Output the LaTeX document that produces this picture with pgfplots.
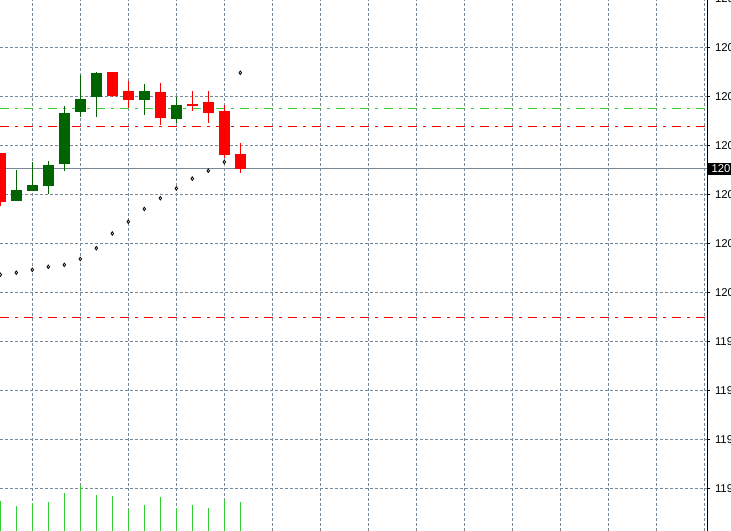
\documentclass[border=0pt]{standalone}
\usepackage{fontspec}
\setmainfont{Liberation Sans}
\usepackage{pgfplots}
\usepackage{pgfplotstable}
\pgfplotsset{compat=1.18}

\definecolor{bull}{RGB}{0,100,0}
\definecolor{bear}{RGB}{255,0,0}
\definecolor{vol}{RGB}{50,205,50}
\definecolor{gridc}{RGB}{119,136,153}

% candles: index, open, high, low, close
\pgfplotstableread{
x o h l c
1 120.093 120.125 120.093 120.104
2 120.103 120.133 120.103 120.109
3 120.108 120.134 120.100 120.130
4 120.131 120.190 120.124 120.183
5 120.184 120.222 120.179 120.197
6 120.199 120.225 120.179 120.224
9 120.196 120.213 120.181 120.205
11 120.177 120.199 120.173 120.191
}\bulltab
\pgfplotstableread{
x o h l c
0 120.142 120.142 120.088 120.092
7 120.225 120.225 120.199 120.200
8 120.205 120.216 120.188 120.196
10 120.204 120.214 120.171 120.178
12 120.192 120.205 120.185 120.190
13 120.194 120.205 120.173 120.183
14 120.185 120.191 120.137 120.140
15 120.141 120.152 120.122 120.126
}\beartab
% parabolic sar
\pgfplotstableread{
x y
0 120.018
1 120.020
2 120.023
3 120.026
4 120.028
5 120.034
6 120.045
7 120.060
8 120.072
9 120.085
10 120.096
11 120.106
12 120.116
13 120.124
14 120.133
15 120.224
}\sartab
% tick volumes
\pgfplotstableread{
x v
0 300
1 250
2 280
3 290
4 380
5 460
6 360
7 350
8 220
9 260
10 340
11 230
12 260
13 230
14 310
15 290
}\voltab

\begin{document}
\begin{tikzpicture}
\useasboundingbox (0,0) rectangle (548.25pt,398.25pt);
\clip (0,0) rectangle (548.25pt,398.25pt);
\begin{axis}[
    at={(0,-7.5pt)}, anchor=south west,
    scale only axis,
    width=530.475pt, height=413.25pt,
    xmin=-0.01875, xmax=44.1875,
    ymin=119.74622, ymax=120.30847,
    axis y line*=right,
    axis x line*=bottom,
    x axis line style={draw=none},
    y axis line style={black, line width=0.75pt},
    xtick={2,5,...,44},
    xticklabels={},
    major x tick style={draw=none},
    ytick={119.75,119.80,119.85,119.90,119.95,120.00,120.05,120.10,120.15,120.20,120.25,120.30},
    yticklabels={119.750,119.800,119.850,119.900,119.950,120.000,120.050,120.100,120.150,120.200,120.250,120.300},
    tick align=outside,
    major tick length=2.25pt,
    major y tick style={black, line width=0.75pt},
    yticklabel style={font=\fontsize{8.5}{10}\selectfont, anchor=west, text height=6.2pt, text depth=0pt},
    grid=major,
    major grid style={gridc, line width=0.75pt, dash pattern=on 2.25pt off 1.5pt},
    extra y ticks={120.126},
    extra y tick labels={120.126},
    extra y tick style={grid=none, yticklabel style={fill=black, text=white, xshift=-2.25pt, inner xsep=3pt, inner ysep=1.4pt}},
    clip=false,
]
% levels
\addplot[vol, line width=0.75pt, dash pattern=on 6.75pt off 4.5pt on 2.25pt off 4.5pt, forget plot]
  coordinates {(-0.01875,120.188) (44.1875,120.188)};
\addplot[bear, line width=0.75pt, dash pattern=on 6.75pt off 4.5pt on 2.25pt off 4.5pt, forget plot]
  coordinates {(-0.01875,120.169) (44.1875,120.169)};
\addplot[bear, line width=0.75pt, dash pattern=on 6.75pt off 4.5pt on 2.25pt off 4.5pt, forget plot]
  coordinates {(-0.01875,119.974) (44.1875,119.974)};
% current price
\addplot[gridc, line width=0.75pt, forget plot]
  coordinates {(-0.01875,120.126) (44.1875,120.126)};
% wicks
\addplot[draw=none, forget plot, error bars/.cd, y dir=minus, y explicit, error mark=none,
  error bar style={draw=bull, line width=0.75pt}]
  table[x=x, y=h, y error expr=\thisrow{h}-\thisrow{l}] {\bulltab};
\addplot[draw=none, forget plot, error bars/.cd, y dir=minus, y explicit, error mark=none,
  error bar style={draw=bear, line width=0.75pt}]
  table[x=x, y=h, y error expr=\thisrow{h}-\thisrow{l}] {\beartab};
% bodies
\addplot[draw=none, forget plot, error bars/.cd, y dir=minus, y explicit, error mark=none,
  error bar style={draw=bull, line width=8.25pt}]
  table[x=x, y=c, y error expr=\thisrow{c}-\thisrow{o}] {\bulltab};
\addplot[draw=none, forget plot, error bars/.cd, y dir=minus, y explicit, error mark=none,
  error bar style={draw=bear, line width=8.25pt}]
  table[x=x, y=o, y error expr=\thisrow{o}-\thisrow{c}] {\beartab};
% sar dots
\addplot[only marks, mark=diamond*, mark size=1.3pt,
  mark options={fill=white, draw=black, line width=0.6pt}, forget plot]
  table[x=x, y=y] {\sartab};
\end{axis}
\begin{axis}[
    at={(0,0)}, anchor=south west,
    scale only axis,
    width=530.475pt, height=398.25pt,
    xmin=-0.01875, xmax=44.1875,
    ymin=0, ymax=5310,
    hide axis,
]
\addplot[ycomb, vol, line width=0.75pt, mark=none] table[x=x, y=v] {\voltab};
\end{axis}
\end{tikzpicture}
\end{document}
